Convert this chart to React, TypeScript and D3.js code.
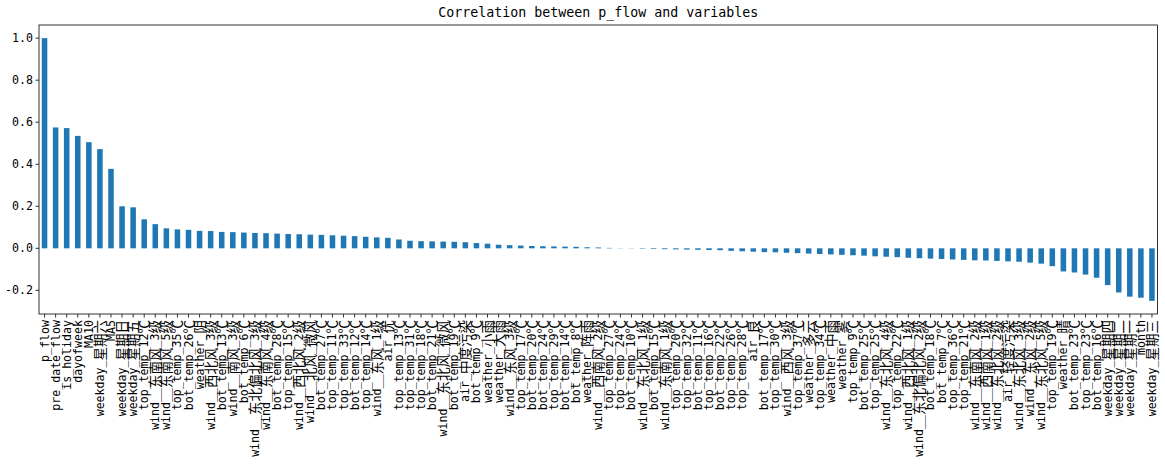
import React from "react";
import * as d3 from "d3";

const labels: string[] = [
  "p_flow", "pre_date_flow", "is_holiday", "dayofweek", "MA10", "weekday_星期六", "MA5",
  "weekday_星期日", "weekday_星期五", "top_temp_12℃", "wind__东南风_3级", "wind__东南风_5级",
  "top_temp_35℃", "bot_temp_26℃", "weather_阴", "wind__西北风_3级", "bot_temp_13℃",
  "wind__南风_3级", "bot_temp_6℃", "wind__东北偏北风_3级", "wind__东南风_4级", "bot_temp_28℃",
  "top_temp_15℃", "wind__西北风_2级", "wind__北风_微风", "bot_temp_27℃", "top_temp_11℃",
  "top_temp_33℃", "bot_temp_12℃", "top_temp_14℃", "wind__东风_1级", "air_优",
  "top_temp_13℃", "top_temp_31℃", "top_temp_18℃", "bot_temp_21℃", "wind__东北风_微风",
  "bot_temp_19℃", "air_中度污染", "bot_temp_9℃", "weather_小雨", "weather_大雨",
  "wind__东风_3级", "top_temp_17℃", "bot_temp_20℃", "bot_temp_24℃", "top_temp_29℃",
  "bot_temp_14℃", "bot_temp_8℃", "weather_阵雨", "wind__西南风_2级", "top_temp_27℃",
  "top_temp_24℃", "bot_temp_10℃", "wind__东北风_1级", "bot_temp_15℃", "wind__东南风_1级",
  "top_temp_20℃", "top_temp_32℃", "bot_temp_11℃", "top_temp_16℃", "bot_temp_22℃",
  "top_temp_26℃", "top_temp_28℃", "air_良", "bot_temp_17℃", "top_temp_30℃",
  "wind__西风_3级", "top_temp_37℃", "weather_多云", "top_temp_34℃", "weather_中雨",
  "weather_雾", "top_temp_9℃", "bot_temp_25℃", "top_temp_25℃", "wind__东北风_4级",
  "top_temp_22℃", "wind__西北风_1级", "wind__东北偏北风_2级", "bot_temp_18℃", "bot_temp_7℃",
  "top_temp_36℃", "top_temp_21℃", "wind__东南风_2级", "wind__西南风_1级", "wind__东北风_2级",
  "air_轻度污染", "wind__东北风_3级", "wind__东风_2级", "wind__东北风_5级", "top_temp_19℃",
  "weather_晴", "bot_temp_23℃", "top_temp_23℃", "bot_temp_16℃", "weekday_星期四",
  "weekday_星期二", "weekday_星期一", "month", "weekday_星期三",
];

const values: number[] = [
  1.0, 0.575, 0.572, 0.535, 0.505, 0.472, 0.378,
  0.2, 0.195, 0.138, 0.115, 0.095,
  0.09, 0.088, 0.083, 0.082, 0.078,
  0.077, 0.075, 0.073, 0.072, 0.07,
  0.068, 0.067, 0.065, 0.064, 0.062,
  0.06, 0.058, 0.055, 0.052, 0.05,
  0.042, 0.036, 0.034, 0.033, 0.032,
  0.031, 0.029, 0.025, 0.022, 0.017,
  0.015, 0.013, 0.011, 0.01, 0.009,
  0.008, 0.007, 0.005, 0.004, 0.002,
  0.001, -0.001, -0.002, -0.003, -0.004,
  -0.005, -0.006, -0.007, -0.008, -0.009,
  -0.012, -0.014, -0.016, -0.018, -0.019,
  -0.021, -0.023, -0.025, -0.027, -0.029,
  -0.031, -0.033, -0.035, -0.038, -0.04,
  -0.042, -0.045, -0.047, -0.049, -0.051,
  -0.053, -0.055, -0.057, -0.058, -0.06,
  -0.062, -0.064, -0.068, -0.073, -0.085,
  -0.11, -0.115, -0.125, -0.14, -0.175,
  -0.21, -0.23, -0.235, -0.25,
];

const yTicks: number[] = [-0.2, 0.0, 0.2, 0.4, 0.6, 0.8, 1.0];
const title = "Correlation between p_flow and variables";

const W = 1165;
const H = 467;
const left = 39;
const right = 1157.5;
const top = 25;
const bottom = 314;
const FONT = "'DejaVu Sans Mono', 'Noto Sans CJK SC', monospace";
const CJK_RE = /([\u2100-\u214F\u3000-\u9FFF]+)/;

function runs(s: string) {
  return s.split(CJK_RE).filter((p) => p.length > 0).map((p) => ({ text: p, cjk: CJK_RE.test(p) }));
}

export default function App() {
  const x = d3
    .scaleBand<string>()
    .domain(labels)
    .range([left, right])
    .paddingInner(0.5)
    .paddingOuter(0.25);
  const yMin = d3.min(values)!;
  const yMax = d3.max(values)!;
  const pad = (yMax - yMin) * 0.05;
  const y = d3.scaleLinear().domain([yMin - pad, yMax + pad]).range([bottom, top]);

  return (
    <svg
      width={W}
      height={H}
      style={{ position: "absolute", left: 0, top: 0, background: "#fff" }}
      fontFamily={FONT}
    >
      <rect x={0} y={0} width={W} height={H} fill="#fff" />
      {labels.map((l, i) => {
        const v = values[i];
        const y0 = y(0);
        const y1 = y(v);
        return (
          <rect
            key={"b" + i}
            x={x(l)!}
            width={x.bandwidth()}
            y={Math.min(y0, y1)}
            height={Math.abs(y1 - y0)}
            fill="#1f77b4"
          />
        );
      })}
      <rect x={left} y={top} width={right - left} height={bottom - top} fill="none" stroke="#000" strokeWidth={0.8} />
      {yTicks.map((t) => (
        <g key={"y" + t}>
          <line x1={left - 3.5} x2={left} y1={y(t)} y2={y(t)} stroke="#000" strokeWidth={0.8} />
          <text x={left - 6} y={y(t)} textAnchor="end" dominantBaseline="central" fontSize={11.6} fill="#000">
            {t.toFixed(1)}
          </text>
        </g>
      ))}
      {labels.map((l, i) => {
        const cx = x(l)! + x.bandwidth() / 2;
        return (
          <g key={"x" + i}>
            <line x1={cx} x2={cx} y1={bottom} y2={bottom + 3.5} stroke="#000" strokeWidth={0.8} />
            <text
              transform={`translate(${cx},${bottom + 6}) rotate(-90)`}
              textAnchor="end"
              dominantBaseline="central"
              fontSize={11.6}
              fill="#000"
            >
              {runs(l).map((r, k) => (
                <tspan key={k} fontSize={r.cjk ? 13.5 : 11.6}>
                  {r.text}
                </tspan>
              ))}
            </text>
          </g>
        );
      })}
      <text x={(left + right) / 2} y={12} textAnchor="middle" dominantBaseline="central" fontSize={13.3} fill="#000">
        {title}
      </text>
    </svg>
  );
}
